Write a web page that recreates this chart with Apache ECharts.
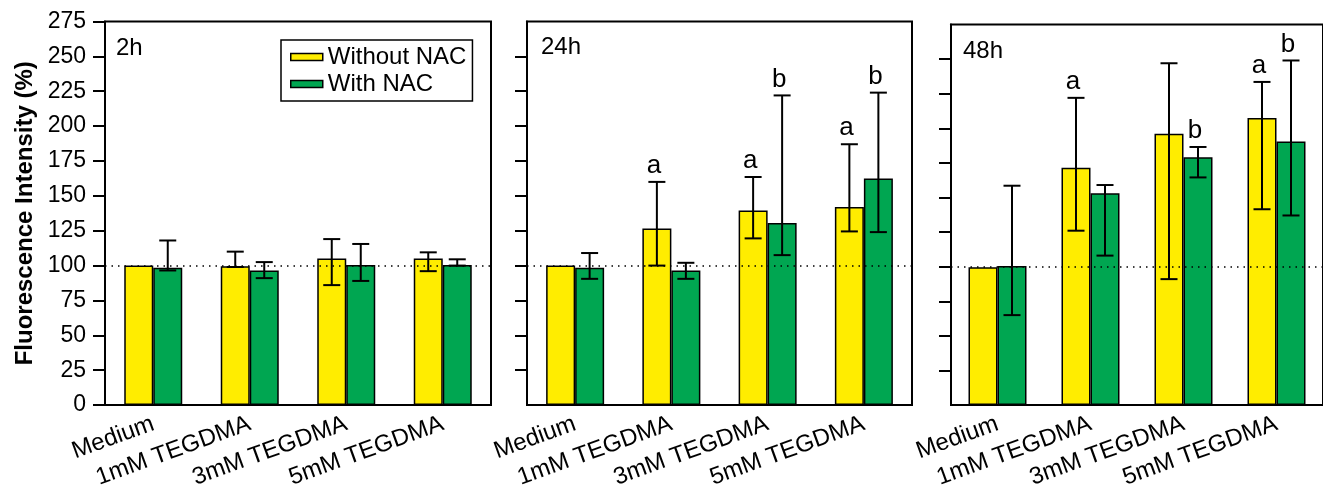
<!DOCTYPE html>
<html>
<head>
<meta charset="utf-8">
<script src="https://cdn.jsdelivr.net/npm/echarts@6/dist/echarts.min.js"></script>
<style>
html,body{margin:0;padding:0;background:#fff;}
#chart{width:1323px;height:491px;}
</style>
</head>
<body>
<div id="chart"></div>
<script>
// ---- data ----
const categories = ['Medium', '1mM TEGDMA', '3mM TEGDMA', '5mM TEGDMA'];
const panels = ['2h', '24h', '48h'];
const seriesNames = ['Without NAC', 'With NAC'];
const yTicks = [0, 25, 50, 75, 100, 125, 150, 175, 200, 225, 250, 275];

// 2h
const h2_without      = [100, 99.5, 105, 105];
const h2_without_low  = [null, 99, 86, 96];
const h2_without_high = [null, 110, 119, 109.5];
const h2_with         = [98.5, 96.5, 100.5, 100.5];
const h2_with_low     = [96.5, 91, 89, 100];
const h2_with_high    = [118, 102.5, 115.5, 104.5];
const h2_without_sig  = ['', '', '', ''];
const h2_with_sig     = ['', '', '', ''];

// 24h
const h24_without      = [100, 126.5, 139.5, 142];
const h24_without_low  = [null, 100, 119.5, 124.5];
const h24_without_high = [null, 160, 163.5, 187];
const h24_with         = [98.5, 96.5, 130.5, 162.5];
const h24_with_low     = [90.5, 90.5, 107.5, 124];
const h24_with_high    = [109, 102, 222, 224];
const h24_without_sig  = ['', 'a', 'a', 'a'];
const h24_with_sig     = ['', '', 'b', 'b'];

// 48h
const h48_without      = [99.5, 171.5, 196, 207.5];
const h48_without_low  = [null, 126, 91, 141.5];
const h48_without_high = [null, 222, 247, 233.5];
const h48_with         = [100.5, 153, 179, 190.5];
const h48_with_low     = [65, 108, 164.5, 137];
const h48_with_high    = [158.5, 159, 186.5, 249];
const h48_without_sig  = ['', 'a', '', 'a'];
const h48_with_sig     = ['', '', 'b', 'b'];

const referenceLine = 100;

// ---- styles ----
const FONT = "'Liberation Sans', Arial, Helvetica, sans-serif";
const COLORS = ['#FFED00', '#00A651'];
const BAR_W = 29;
const CAP_W = 17;

const panelData = [
  {means: [h2_without, h2_with], lows: [h2_without_low, h2_with_low], highs: [h2_without_high, h2_with_high], sig: [h2_without_sig, h2_with_sig]},
  {means: [h24_without, h24_with], lows: [h24_without_low, h24_with_low], highs: [h24_without_high, h24_with_high], sig: [h24_without_sig, h24_with_sig]},
  {means: [h48_without, h48_with], lows: [h48_without_low, h48_with_low], highs: [h48_without_high, h48_with_high], sig: [h48_without_sig, h48_with_sig]}
];

const grids = [
  {left: 105, top: 21.5, width: 386, height: 385},
  {left: 527, top: 21.5, width: 385, height: 385},
  {left: 951, top: 24.5, width: 382, height: 382}
];
const titlePos = [{left: 116, top: 36}, {left: 541, top: 35}, {left: 963, top: 39}];

const option = {
  animation: false,
  backgroundColor: '#fff',
  textStyle: {fontFamily: FONT},
  title: panels.map((p, i) => ({
    text: p, left: titlePos[i].left, top: titlePos[i].top, padding: 0,
    textStyle: {fontSize: 24, fontWeight: 'normal', color: '#000', fontFamily: FONT}
  })),
  legend: {
    data: seriesNames.map(n => ({name: n, icon: 'rect'})),
    orient: 'vertical',
    left: 281, top: 40,
    padding: [5, 6, 5, 9],
    itemGap: 3,
    itemWidth: 32, itemHeight: 7,
    borderColor: '#000', borderWidth: 1.5,
    textStyle: {fontSize: 24, color: '#000', fontFamily: FONT},
    itemStyle: {borderColor: '#000', borderWidth: 1.5}
  },
  grid: grids.map(g => Object.assign({show: true, borderColor: '#000', borderWidth: 2, backgroundColor: 'transparent'}, g)),
  xAxis: panels.map((p, i) => ({
    type: 'category', gridIndex: i, data: categories,
    axisLine: {lineStyle: {color: '#000', width: 2}},
    axisTick: {alignWithLabel: true, length: 8, lineStyle: {color: '#000', width: 2}},
    axisLabel: {rotate: 20, interval: 0, margin: 18, fontSize: 24, color: '#000', fontFamily: FONT}
  })),
  yAxis: panels.map((p, i) => ({
    type: 'value', gridIndex: i, min: yTicks[0], max: yTicks[yTicks.length - 1], interval: 25,
    name: i === 0 ? 'Fluorescence Intensity (%)' : '',
    nameLocation: 'middle', nameGap: 68, nameRotate: 90,
    nameTextStyle: {fontSize: 24, fontWeight: 'bold', color: '#000', fontFamily: FONT},
    splitLine: {show: false},
    axisLine: {show: true, lineStyle: {color: '#000', width: 2}},
    axisTick: i === 0
      ? {show: true, length: 12, lineStyle: {color: '#000', width: 2}}
      : {show: true, length: 12, lineStyle: {color: '#000', width: 2}, customValues: yTicks.slice(1, -1)},
    axisLabel: {show: i === 0, margin: 19, fontSize: 23, color: '#000', fontFamily: FONT}
  })),
  series: []
};

function errRender(pi, si) {
  const d = panelData[pi];
  return function (params, api) {
    const idx = api.value(0);
    const lo = api.coord([idx, api.value(1)]);
    const hi = api.coord([idx, api.value(2)]);
    const x = lo[0] + (si === 0 ? -BAR_W / 2 : BAR_W / 2);
    const style = {stroke: '#000', lineWidth: 2};
    const children = [
      {type: 'line', shape: {x1: x, y1: lo[1], x2: x, y2: hi[1]}, style: style},
      {type: 'line', shape: {x1: x - CAP_W / 2, y1: lo[1], x2: x + CAP_W / 2, y2: lo[1]}, style: style},
      {type: 'line', shape: {x1: x - CAP_W / 2, y1: hi[1], x2: x + CAP_W / 2, y2: hi[1]}, style: style}
    ];
    const s = d.sig[si][idx];
    if (s) {
      children.push({type: 'text', style: {text: s, x: x - 3, y: hi[1] - 3, align: 'center', verticalAlign: 'bottom',
        fontSize: 26, fill: '#000', fontFamily: FONT}});
    }
    return {type: 'group', children: children};
  };
}

panelData.forEach((d, pi) => {
  seriesNames.forEach((name, si) => {
    option.series.push({
      type: 'bar', name: name, xAxisIndex: pi, yAxisIndex: pi,
      data: d.means[si], barWidth: BAR_W, barGap: '0%',
      itemStyle: {color: COLORS[si], borderColor: '#000', borderWidth: 1.5},
      z: 2
    });
  });
  seriesNames.forEach((name, si) => {
    const errData = [];
    d.means[si].forEach((m, k) => {
      if (d.lows[si][k] !== null && d.highs[si][k] !== null) errData.push([k, d.lows[si][k], d.highs[si][k]]);
    });
    const ser = {
      type: 'custom', name: 'err_' + pi + '_' + si, xAxisIndex: pi, yAxisIndex: pi,
      renderItem: errRender(pi, si), data: errData, z: 5, clip: false,
      encode: {x: 0, y: [1, 2]}
    };
    if (si === 1) {
      ser.markLine = {
        silent: true, symbol: 'none', label: {show: false},
        lineStyle: {type: [1.5, 5], color: '#000', width: 1.5},
        data: [{yAxis: referenceLine}]
      };
    }
    option.series.push(ser);
  });
});

const chart = echarts.init(document.getElementById('chart'), null, {renderer: 'canvas'});
chart.setOption(option);
</script>
</body>
</html>
